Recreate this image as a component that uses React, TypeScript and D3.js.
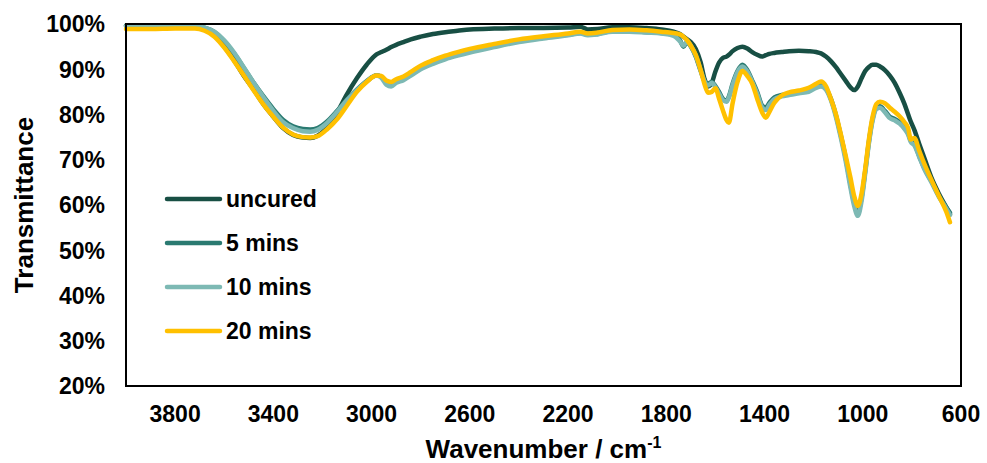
import React from 'react';
import * as d3 from 'd3';

// wavenumber grid shared by every spectrum (cm-1)
const wavenumbers = [
  4000, 3900, 3800, 3720, 3680, 3640, 3600, 3560, 3520, 3480, 3440, 3400, 3360, 3320, 3280, 3250, 3220,
  3180, 3140, 3100, 3060, 3020, 2980, 2960, 2940, 2920, 2900, 2870, 2840, 2800, 2750, 2700, 2650, 2600,
  2500, 2400, 2300, 2200, 2150, 2120, 2080, 2020, 1950, 1880, 1820, 1770, 1745, 1730, 1715, 1700, 1680,
  1660, 1645, 1630, 1615, 1600, 1585, 1570, 1555, 1545, 1530, 1510, 1490, 1470, 1450, 1430, 1410, 1395,
  1380, 1360, 1330, 1300, 1260, 1220, 1190, 1170, 1150, 1130, 1110, 1090, 1070, 1050, 1035, 1020, 1005,
  990, 975, 960, 945, 930, 910, 890, 870, 850, 830, 815, 805, 790, 770, 750, 720, 690, 660, 645,
];

const uncured = [
  99.6, 99.6, 99.6, 99.5, 99.0, 97.5, 95.0, 92.0, 88.5, 85.5, 82.2, 79.5, 77.0, 75.5, 74.9, 74.8, 75.3,
  77.2, 80.5, 84.5, 88.0, 91.0, 93.3, 93.8, 94.3, 94.9, 95.4, 96.0, 96.6, 97.2, 97.8, 98.2, 98.5, 98.8,
  99.0, 99.1, 99.1, 99.2, 99.4, 98.8, 98.9, 99.3, 99.3, 99.1, 98.8, 98.3, 97.8, 97.2, 96.6, 96.0, 94.5,
  91.5, 88.0, 86.2, 87.0, 89.5, 91.5, 92.5, 92.8, 93.2, 94.0, 94.7, 95.0, 94.6, 93.8, 93.2, 92.8, 93.1,
  93.4, 93.6, 93.8, 94.0, 94.1, 94.0, 93.8, 93.5, 92.8, 91.8, 90.5, 89.0, 87.5, 86.0, 85.4, 86.2, 88.0,
  89.6, 90.5, 91.0, 91.0, 90.6, 89.8, 88.6, 87.0, 84.8, 82.3, 80.0, 78.5, 76.6, 73.5, 70.5, 66.0, 62.5, 59.5, 58.0,
];

const mins5 = [
  99.6, 99.6, 99.6, 99.5, 99.2, 98.2, 96.2, 93.5, 90.3, 87.0, 84.0, 81.2, 78.8, 77.4, 76.8, 76.7, 77.0,
  78.5, 80.8, 83.3, 85.5, 87.4, 88.7, 88.3, 87.0, 86.6, 87.3, 87.8, 88.8, 90.2, 91.4, 92.4, 93.2, 93.9,
  95.1, 96.2, 97.0, 97.6, 98.0, 97.6, 97.8, 98.4, 98.4, 98.2, 98.0, 97.6, 96.5, 95.0, 96.0, 95.0, 92.8,
  89.6, 87.5, 86.8, 87.2, 86.3, 85.0, 83.5, 83.0, 84.0, 86.8, 89.6, 91.0, 89.8, 87.5, 85.0, 82.0, 81.5,
  82.6, 83.8, 84.3, 84.6, 85.0, 85.3, 86.2, 86.5, 85.8, 83.5, 80.0, 75.5, 70.5, 64.5, 60.5, 58.5, 61.5,
  67.5, 74.0, 79.0, 81.5, 81.8, 80.8, 79.5, 79.0, 78.3, 77.0, 75.8, 74.3, 73.5, 70.8, 68.2, 65.2, 62.0, 59.5, 58.3,
];

const mins10 = [
  99.5, 99.5, 99.6, 99.5, 99.2, 98.3, 96.4, 93.7, 90.4, 87.0, 83.8, 80.8, 78.3, 77.0, 76.3, 76.2, 76.6,
  78.2, 80.6, 83.2, 85.4, 87.3, 88.6, 88.1, 86.6, 86.2, 87.0, 87.6, 88.6, 90.0, 91.2, 92.2, 93.0, 93.7,
  94.9, 96.0, 96.8, 97.5, 97.9, 97.5, 97.7, 98.3, 98.3, 98.1, 97.9, 97.4, 96.2, 95.2, 96.2, 95.2, 93.0,
  89.8, 87.4, 86.4, 87.0, 86.0, 84.6, 83.2, 82.8, 83.8, 86.5, 89.4, 90.6, 89.5, 87.2, 84.6, 81.6, 81.0,
  82.2, 83.4, 84.0, 84.3, 84.7, 85.0, 85.9, 86.2, 85.5, 83.2, 79.6, 75.0, 69.8, 63.8, 59.8, 57.6, 60.8,
  67.0, 73.6, 78.6, 81.2, 81.5, 80.5, 79.2, 78.7, 78.0, 76.8, 75.5, 74.0, 73.2, 70.6, 68.0, 65.0, 61.8, 59.2, 57.8,
];

const mins20 = [
  98.9, 98.9, 99.0, 99.0, 98.5, 97.2, 94.8, 91.8, 88.6, 85.3, 82.2, 79.5, 77.1, 75.6, 75.0, 74.9, 75.2,
  76.8, 79.0, 82.0, 85.0, 87.2, 88.6, 88.5, 87.5, 87.2, 87.8, 88.4, 89.4, 90.8, 92.0, 93.0, 93.8, 94.5,
  95.6, 96.6, 97.3, 97.9, 98.3, 97.9, 98.1, 98.7, 98.8, 98.6, 98.3, 98.0, 97.7, 97.2, 96.4, 95.2, 93.2,
  89.8, 86.8, 84.8, 85.0, 85.8, 83.5, 81.0, 78.8, 78.2, 82.5, 87.2, 89.6, 88.5, 86.8, 83.5, 80.5, 79.3,
  80.6, 82.6, 84.2, 84.9, 85.3, 85.9, 86.8, 87.3, 86.3, 83.5, 80.2, 75.8, 71.0, 66.0, 62.0, 59.8, 62.5,
  68.0, 74.5, 79.5, 82.3, 82.8, 82.5, 81.5, 80.6, 79.6, 78.3, 77.0, 74.5, 74.8, 72.0, 69.2, 65.5, 62.0, 58.5, 56.2,
];

const seriesNames = ['uncured', '5 mins', '10 mins', '20 mins'];
const seriesValues = [uncured, mins5, mins10, mins20];
const seriesColors = ['#184f44', '#2a7a71', '#7db9b4', '#ffc000'];

const xTicks = [3800, 3400, 3000, 2600, 2200, 1800, 1400, 1000, 600];
const yTicks = [20, 30, 40, 50, 60, 70, 80, 90, 100];

const W = 987;
const H = 463;
const M = { left: 126, right: 26, top: 24, bottom: 77 };

const App = () => {
  const x = d3.scaleLinear().domain([4000, 600]).range([M.left, W - M.right]);
  const y = d3.scaleLinear().domain([20, 100]).range([H - M.bottom, M.top]);

  const line = d3.line<number>()
    .x((_, i) => x(wavenumbers[i]))
    .y(d => y(d))
    .curve(d3.curveMonotoneX);

  const font = 'Arial, "Liberation Sans", sans-serif';
  const legendY = d3.scaleLinear().domain([0, 3]).range([199, 331]);

  return (
    <div>
      <style>{`body{margin:0}`}</style>
      <svg width={W} height={H} style={{ display: 'block', background: '#fff' }} fontFamily={font}>
        {seriesValues.map((vals, i) => (
          <path key={seriesNames[i]} d={line(vals) || ''} fill="none" stroke={seriesColors[i]}
            strokeWidth={4.5} strokeLinejoin="round" strokeLinecap="round" />
        ))}

        <rect x={M.left} y={M.top} width={W - M.left - M.right} height={H - M.top - M.bottom}
          fill="none" stroke="#000" strokeWidth={2} />

        {yTicks.map(t => (
          <text key={t} x={105} y={y(t)} dy="0.36em" textAnchor="end" fontSize={23} fontWeight="bold">
            {t}%
          </text>
        ))}
        {xTicks.map(t => (
          <text key={t} x={x(t)} y={422} textAnchor="middle" fontSize={23} fontWeight="bold">
            {t}
          </text>
        ))}

        <text transform={`translate(33,${(M.top + H - M.bottom) / 2}) rotate(-90)`} textAnchor="middle"
          fontSize={26} fontWeight="bold">Transmittance</text>
        <text x={(M.left + W - M.right) / 2} y={458} textAnchor="middle" fontSize={26} fontWeight="bold">
          Wavenumber / cm<tspan dy={-10} fontSize={16}>-1</tspan>
        </text>

        {seriesNames.map((name, i) => (
          <g key={name}>
            <line x1={167} x2={220} y1={legendY(i)} y2={legendY(i)} stroke={seriesColors[i]}
              strokeWidth={4.5} strokeLinecap="round" />
            <text x={226} y={legendY(i)} dy="0.36em" fontSize={23} fontWeight="bold">{name}</text>
          </g>
        ))}
      </svg>
    </div>
  );
};

export default App;
